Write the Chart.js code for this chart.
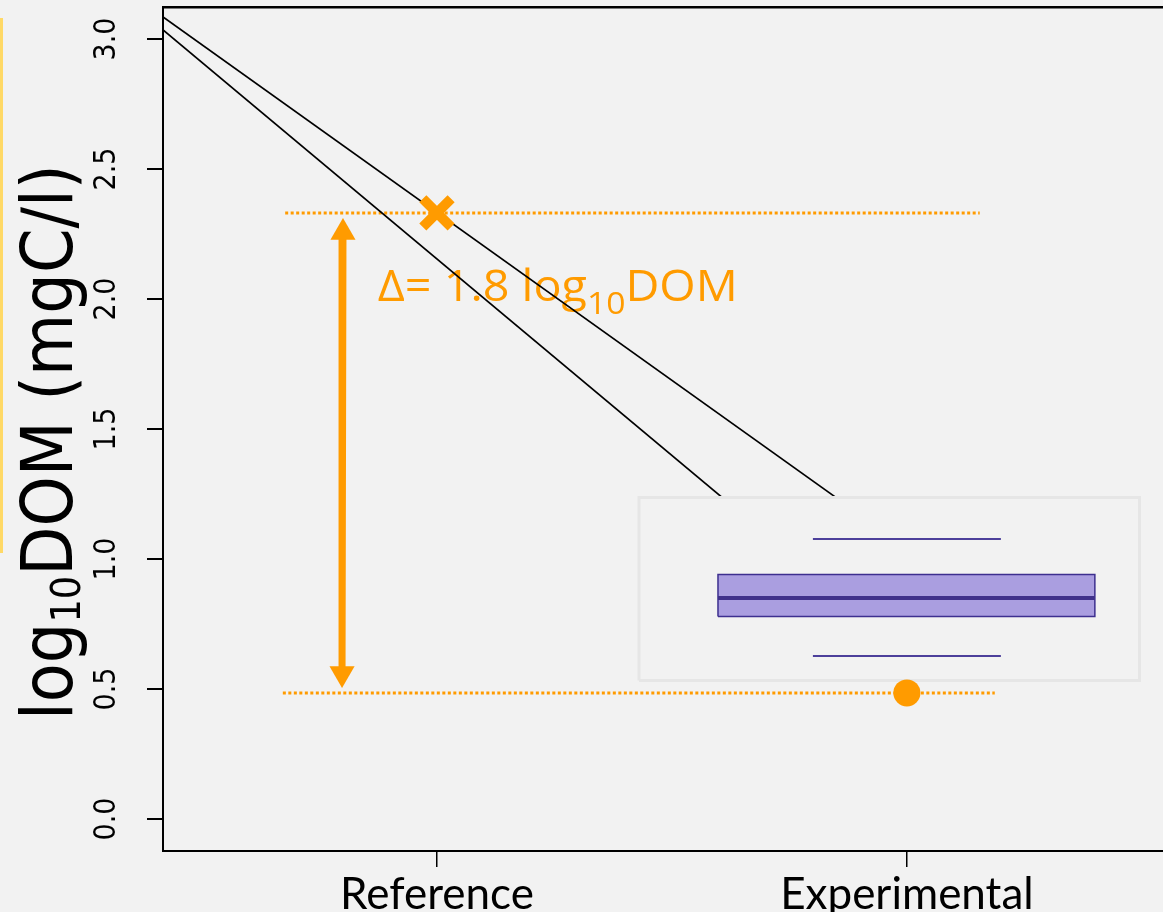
<!DOCTYPE html>
<html>
<head>
<meta charset="utf-8">
<script src="https://cdn.jsdelivr.net/npm/chart.js@4.4.0/dist/chart.umd.min.js"></script>
<style>
  html, body { margin: 0; padding: 0; background: #f2f2f2; overflow: hidden; }
  #wrap { width: 1163px; height: 912px; }
</style>
</head>
<body>
<div id="wrap"><canvas id="chart" width="1163" height="912"></canvas></div>
<script>
// DOM change between reference and experimental streams

const groups = ['Reference', 'Experimental']
const groupX = [1, 2]
const yTickValues = [0, 0.5, 1, 1.5, 2, 2.5, 3]
const xRange = [0.417, 2.545]
const yRange = [-0.123, 3.123]

// the two black lines (they run behind the inset box)
const fitUpperX = [0.417, 1.848]
const fitUpperY = [3.085, 1.238]
const fitLowerX = [0.417, 1.606]
const fitLowerY = [3.035, 1.238]

// reference value (cross) and experimental value (dot) with their guides
const refValue = 2.331
const expValue = 0.485
const refGuideX = [0.677, 2.155]
const expGuideX = [0.672, 2.187]

// double arrow between the guides
const arrowX = [0.800, 0.798]
const arrowY = [2.256, 0.560]

// inset with the experimental distribution
const insetX = [1.430, 2.495]
const insetY = [0.533, 1.237]
const boxX = [1.598, 2.400]
const capX = [1.800, 2.200]
const boxStats = [0.627, 0.779, 0.850, 0.940, 1.077] // low cap, q1, median, q3, high cap

const deltaText = ['Δ= 1.8 log', '10', 'DOM']
const deltaAt = [0.874, 1.992]
const deltaWidth = 360
const yTitle = ['log', '10', 'DOM (mgC/l)']

const ORANGE = '#ff9b00'
const NARROW = "'Liberation Sans Narrow', 'DejaVu Sans Condensed', 'Liberation Sans', sans-serif"

function pts(xs, ys){
  return xs.map((x, i) => ({x, y: ys[i]}))
}

function rect(xs, ys){
  return [
    {x: xs[0], y: ys[0]}, {x: xs[1], y: ys[0]},
    {x: xs[1], y: ys[1]}, {x: xs[0], y: ys[1]}, {x: xs[0], y: ys[0]}
  ]
}

function seg(data, color, width, order, extra){
  return Object.assign({
    data, borderColor: color, borderWidth: width, pointRadius: 0,
    showLine: true, fill: false, tension: 0, order
  }, extra || {})
}

// keep the plot box exactly where the axes say, no label overflow margins
function noPad(s){
  s.paddingLeft = 0; s.paddingRight = 0; s.paddingTop = 0; s.paddingBottom = 0
}

const datasets = [
  seg(pts(refGuideX, [refValue, refValue]), ORANGE, 3, 7, {borderDash: [3, 2.5]}),
  seg(pts(expGuideX, [expValue, expValue]), ORANGE, 3, 7, {borderDash: [3, 2.5]}),
  seg(pts(fitUpperX, fitUpperY), '#000', 1.8, 6),
  seg(pts(fitLowerX, fitLowerY), '#000', 1.8, 6),
  seg(rect(insetX, insetY), '#e6e6e6', 3, 5, {fill: 'shape', backgroundColor: '#f2f2f2'}),
  seg(rect(boxX, [boxStats[1], boxStats[3]]), '#3d2f8f', 1.5, 4, {fill: 'shape', backgroundColor: '#aa9ee0'}),
  seg(pts(boxX, [boxStats[2], boxStats[2]]), '#40318b', 4, 3),
  seg(pts(capX, [boxStats[0], boxStats[0]]), '#4d409b', 2, 3),
  seg(pts(capX, [boxStats[4], boxStats[4]]), '#4d409b', 2, 3),
  seg(pts(arrowX, arrowY), ORANGE, 7, 2, {
    pointStyle: 'triangle', pointRadius: 14.5, pointRotation: [0, 180],
    pointBackgroundColor: ORANGE, pointBorderWidth: 0
  }),
  {
    data: [{x: groupX[0], y: refValue}], showLine: false, order: 1,
    pointStyle: 'crossRot', pointRadius: 20, pointBorderWidth: 10,
    pointBorderColor: ORANGE, pointBackgroundColor: ORANGE
  },
  {
    data: [{x: groupX[1], y: expValue}], showLine: false, order: 1,
    pointStyle: 'circle', pointRadius: 13.5, pointBorderWidth: 0,
    pointBackgroundColor: ORANGE
  }
]

// draws [main, subscript, main] starting at 0,0 in the current transform
function subText(ctx, parts, big, small, drop){
  let cx = 0
  ctx.font = big
  ctx.fillText(parts[0], cx, 0)
  cx += ctx.measureText(parts[0]).width
  ctx.font = small
  ctx.fillText(parts[1], cx, drop)
  cx += ctx.measureText(parts[1]).width
  ctx.font = big
  ctx.fillText(parts[2], cx, 0)
  return cx + ctx.measureText(parts[2]).width
}

function subWidth(ctx, parts, big, small){
  ctx.font = big
  let w = ctx.measureText(parts[0]).width + ctx.measureText(parts[2]).width
  ctx.font = small
  return w + ctx.measureText(parts[1]).width
}

const backdrop = {
  id: 'backdrop',
  beforeDraw(chart){
    const ctx = chart.ctx
    ctx.save()
    ctx.fillStyle = '#f2f2f2'
    ctx.fillRect(0, 0, chart.width, chart.height)
    // slide accent bar on the far left
    ctx.fillStyle = '#ffd966'
    ctx.fillRect(0, 18, 3, 535)
    ctx.restore()
  },
  beforeDatasetsDraw(chart){
    // delta annotation sits under the black lines
    const {ctx, scales} = chart
    const big = '43px "Open Sans", Lato'
    const small = '31px "Open Sans", Lato'
    ctx.save()
    ctx.fillStyle = ORANGE
    ctx.textBaseline = 'alphabetic'
    ctx.textAlign = 'left'
    const sx = deltaWidth / subWidth(ctx, deltaText, big, small)
    ctx.translate(scales.x.getPixelForValue(deltaAt[0]), scales.y.getPixelForValue(deltaAt[1]))
    ctx.scale(sx, 1)
    subText(ctx, deltaText, big, small, 13)
    ctx.restore()
  },
  afterDraw(chart){
    // rotated axis title with subscript
    const ctx = chart.ctx
    ctx.save()
    ctx.translate(72, 720)
    ctx.rotate(-Math.PI / 2)
    ctx.fillStyle = '#000'
    ctx.textBaseline = 'alphabetic'
    ctx.textAlign = 'left'
    subText(ctx, yTitle, '71px ' + NARROW, '41px ' + NARROW, 8)
    ctx.restore()
  }
}

const chart = new Chart(document.getElementById('chart'), {
  type: 'scatter',
  data: {datasets},
  options: {
    responsive: false,
    animation: false,
    layout: {padding: 0, autoPadding: false},
    plugins: {legend: {display: false}, tooltip: {enabled: false}},
    scales: {
      x: {
        type: 'linear', position: 'bottom', min: xRange[0], max: xRange[1],
        afterBuildTicks: s => { s.ticks = groupX.map(v => ({value: v})) },
        afterFit: s => { s.height = 61; noPad(s) },
        grid: {drawOnChartArea: false, tickLength: 16, color: '#000', lineWidth: 1.5},
        border: {display: true, color: '#000', width: 2},
        ticks: {
          autoSkip: false, maxRotation: 0, padding: 1, color: '#000',
          font: {family: 'Lato', size: 44},
          callback: (v, i) => groups[i]
        }
      },
      xTop: {
        type: 'linear', position: 'top', min: 0, max: 1,
        afterBuildTicks: s => { s.ticks = [] },
        afterFit: s => { s.height = 7; noPad(s) },
        grid: {drawOnChartArea: false, drawTicks: false},
        border: {display: true, color: '#000', width: 2.5},
        ticks: {display: false}
      },
      y: {
        type: 'linear', position: 'left', min: yRange[0], max: yRange[1],
        afterBuildTicks: s => { s.ticks = yTickValues.map(v => ({value: v})) },
        afterFit: s => { s.width = 163; noPad(s) },
        grid: {drawOnChartArea: false, tickLength: 16, color: '#000', lineWidth: 2},
        border: {display: true, color: '#000', width: 2},
        ticks: {
          minRotation: 90, maxRotation: 90, crossAlign: 'center', padding: 18,
          color: '#000', font: {family: NARROW, size: 30},
          callback: v => v.toFixed(1)
        }
      }
    }
  },
  plugins: [backdrop]
})
</script>
</body>
</html>
